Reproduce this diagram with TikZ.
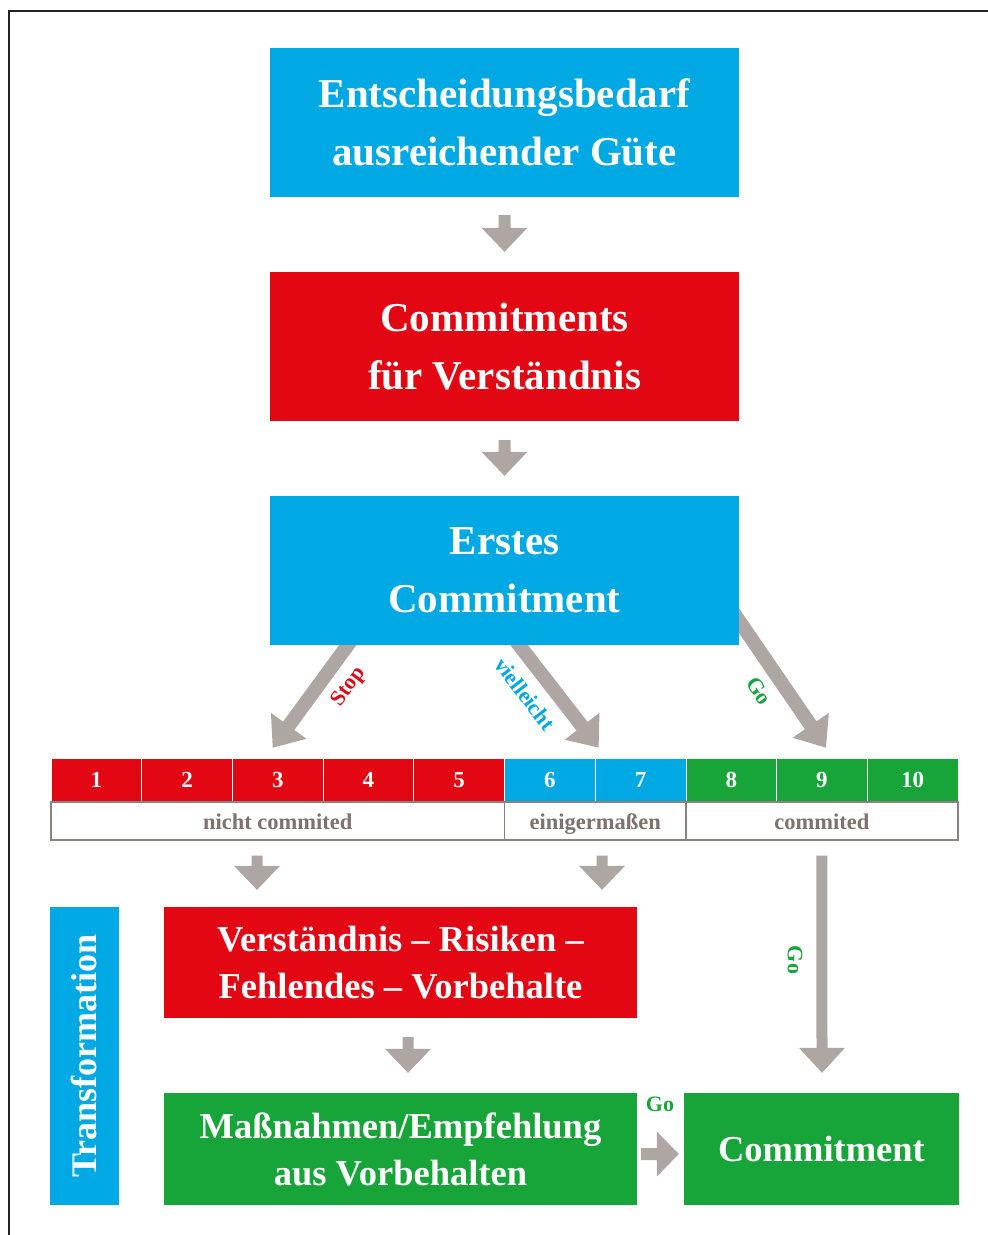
\documentclass[tikz,border=0pt]{standalone}
\usepackage{fontspec}
\setmainfont{Liberation Serif}
\usetikzlibrary{calc}
\definecolor{cblue}{RGB}{0,168,228}
\definecolor{cred}{RGB}{227,6,19}
\definecolor{cgreen}{RGB}{23,165,58}
\definecolor{cgray}{RGB}{173,166,163}
\definecolor{clab}{RGB}{125,114,110}
\definecolor{cborder}{RGB}{140,130,127}
\definecolor{cframe}{RGB}{35,35,35}
\pgfdeclarelayer{bg}
\pgfsetlayers{bg,main}
% block arrow: #1 start, #2 tip, #3 half shaft, #4 half head, #5 head length
\newcommand{\blockarr}[5]{%
  \coordinate (tmpH) at ($(#2)!#5!(#1)$);
  \fill[cgray] ($(#1)!#3!90:(#2)$) -- ($(tmpH)!#3!-90:(#1)$) -- ($(tmpH)!#4!-90:(#1)$) -- (#2)
    -- ($(tmpH)!#4!90:(#1)$) -- ($(tmpH)!#3!90:(#1)$) -- ($(#1)!#3!-90:(#2)$) -- cycle;}
\tikzset{
  bigbox/.style={fill=#1, text=white, inner sep=0pt, align=center, minimum width=469pt, minimum height=149pt, font=\bfseries\fontsize{41}{58}\selectfont},
  lowbox/.style={fill=#1, text=white, inner sep=0pt, align=center, font=\bfseries\fontsize{36.5}{47}\selectfont},
  cell/.style={fill=#1, draw=white, line width=0.8pt, text=white, inner sep=0pt, minimum width=90.7pt, minimum height=44pt, text height=15pt, text depth=0pt, font=\bfseries\fontsize{23}{23}\selectfont},
  lab/.style={draw=cborder, line width=1.2pt, fill=white, text=clab, inner sep=0pt, minimum height=38pt, text height=18pt, text depth=2pt, font=\bfseries\fontsize{22.5}{24}\selectfont},
  armlabel/.style={text=#1, font=\bfseries\fontsize{22}{22}\selectfont, inner sep=0pt},
}
\begin{document}
\begin{tikzpicture}[x=1pt,y=-1pt]
\useasboundingbox (0,0) rectangle (988,1235);
\draw[cframe, line width=1.2pt] (9,1235) -- (9,11) -- (988,11);

% main boxes
\node[bigbox=cblue] (b1) at (504.5,122.5) {Entscheidungsbedarf\\ausreichender Güte};
\node[bigbox=cred]  (b2) at (504.5,346.5) {Commitments\\für Verständnis};
\node[bigbox=cblue] (b3) at (504.5,570.5) {Erstes\\Commitment};

% scale cells
\foreach \i/\c in {1/cred,2/cred,3/cred,4/cred,5/cred,6/cblue,7/cblue,8/cgreen,9/cgreen,10/cgreen}
  \node[cell=\c] (c\i) at ({51+90.7*(\i-0.5)},780) {\i};

% label row
\node[lab, minimum width=453.5pt] (lab1) at (277.75,821) {nicht commited};
\node[lab, minimum width=181.4pt] (lab2) at (595.2,821) {einigermaßen};
\node[lab, minimum width=272.1pt] (lab3) at (821.95,821) {commited};

% lower boxes
\node[fill=cblue, text=white, inner sep=0pt, minimum width=298pt, minimum height=69pt, rotate=90,
      font=\bfseries\fontsize{36}{36}\selectfont] (tr) at (84.5,1056) {Transformation};
\node[lowbox=cred, minimum width=473pt, minimum height=111pt] (b4) at (400.5,962.5) {Verständnis – Risiken –\\Fehlendes – Vorbehalte};
\node[lowbox=cgreen, minimum width=473pt, minimum height=112pt] (b5) at (400.5,1149) {Maßnahmen/Empfehlung\\aus Vorbehalten};
\node[lowbox=cgreen, minimum width=275pt, minimum height=112pt] (b6) at (821.5,1149) {Commitment};

% connector end points
\coordinate (a1s) at ($(b1.south)+(0,18)$);
\coordinate (a1e) at ($(b2.north)+(0,-20)$);
\coordinate (a2s) at ($(b2.south)+(0,19)$);
\coordinate (a2e) at ($(b3.north)+(0,-20)$);
\coordinate (sS) at ($(b3.south west)+(83,-7)$);
\coordinate (sE) at ($(c3.north)+(-5,-10)$);
\coordinate (vS) at ($(b3.south west)+(244,-7)$);
\coordinate (vE) at ($(c6.north east)+(3,-10)$);
\coordinate (gS) at ($(b3.south east)+(-6,-33)$);
\coordinate (gE) at ($(c9.north)+(4,-10)$);
\coordinate (d1s) at ($(lab1.south)+(-20.75,15)$);
\coordinate (d1e) at ($(d1s |- b4.north)+(0,-17)$);
\coordinate (d2s) at ($(lab2.south)+(6.8,15)$);
\coordinate (d2e) at ($(d2s |- b4.north)+(0,-17)$);
\coordinate (d3s) at ($(b4.south)+(7.5,19)$);
\coordinate (d3e) at ($(b5.north)+(7.5,-20)$);
\coordinate (gvS) at ($(lab3.south -| c9.center)+(0,15)$);
\coordinate (gvE) at ($(b6.north)+(0.5,-20)$);
\coordinate (grS) at ($(b5.east)+(4,5)$);
\coordinate (grE) at ($(b6.west)+(-5,5)$);

\begin{pgfonlayer}{bg}
\blockarr{a1s}{a1e}{6pt}{23pt}{24pt}
\blockarr{a2s}{a2e}{6pt}{23pt}{24pt}
\blockarr{sS}{sE}{7pt}{22pt}{27pt}
\blockarr{vS}{vE}{7pt}{22pt}{27pt}
\blockarr{gS}{gE}{7pt}{22pt}{27pt}
\blockarr{d1s}{d1e}{5.5pt}{23pt}{24pt}
\blockarr{d2s}{d2e}{5.5pt}{23pt}{24pt}
\blockarr{d3s}{d3e}{5.5pt}{23pt}{24pt}
\blockarr{gvS}{gvE}{5.5pt}{23pt}{25pt}
\blockarr{grS}{grE}{6pt}{22.5pt}{22pt}
\end{pgfonlayer}

% arrow labels
\node[armlabel=cred, rotate=53.6] (lstop) at (349,687) {Stop};
\node[armlabel=cblue, rotate=-52.5] (lviel) at (525,694) {vielleicht};
\node[armlabel=cgreen, rotate=-55] (lgo1) at (759,691) {Go};
\node[armlabel=cgreen, rotate=-90] (lgo2) at (795,960) {Go};
\node[armlabel=cgreen] (lgo3) at (660,1104) {Go};
\end{tikzpicture}
\end{document}
